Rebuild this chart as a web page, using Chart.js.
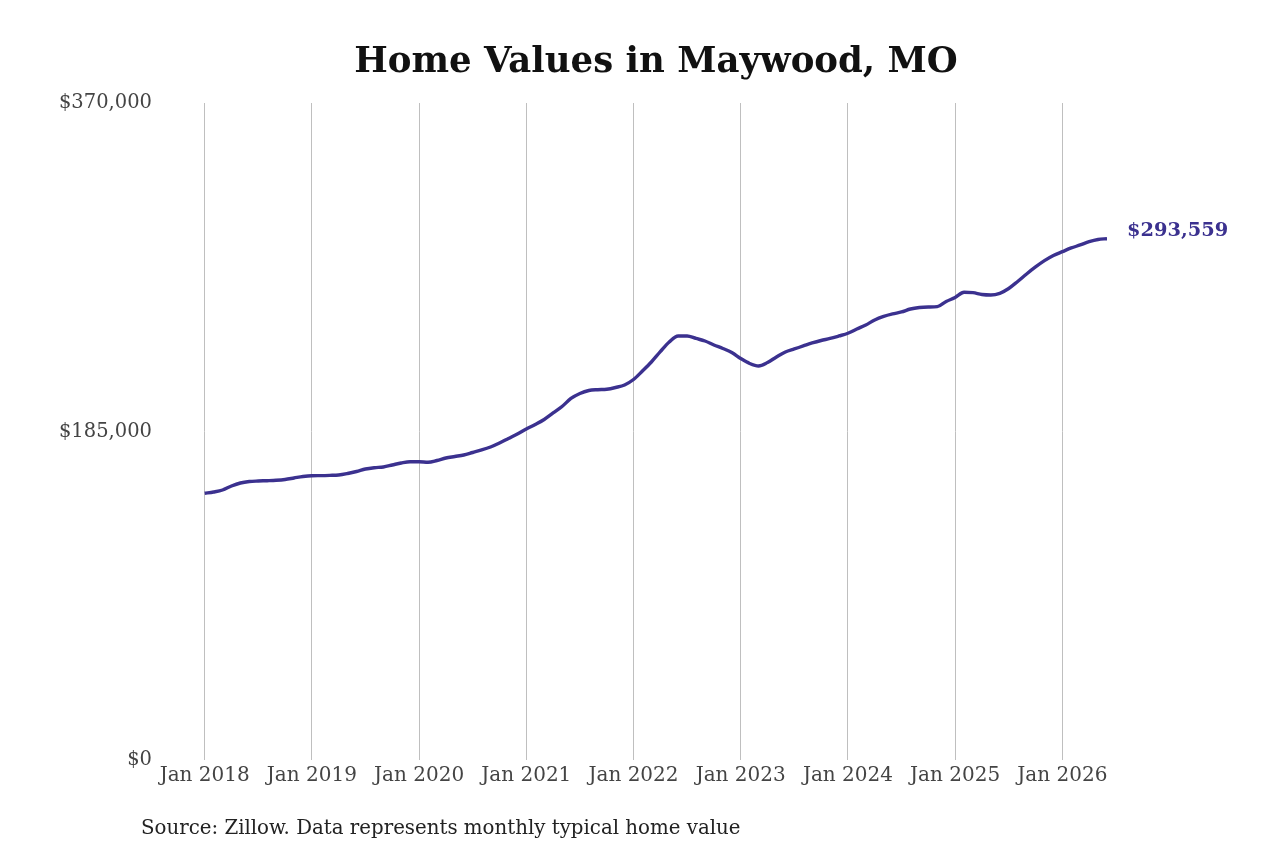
<!DOCTYPE html>
<html>
<head>
<meta charset="utf-8">
<script src="https://cdn.jsdelivr.net/npm/chart.js@4.4.1/dist/chart.umd.min.js"></script>
<style>
  html, body { margin: 0; padding: 0; background: #ffffff; }
  #wrap { position: relative; width: 1280px; height: 853px; overflow: hidden; }
  #title { position: absolute; left: 0; width: 1312px; top: 38px; text-align: center;
           font-family: "DejaVu Serif", serif; font-weight: bold; font-size: 35.5px; line-height: 44px; color: #111; }
  #source { position: absolute; left: 141px; top: 816px; font-family: "DejaVu Serif", serif;
            font-size: 19.8px; line-height: 24px; color: #222; }
  canvas { position: absolute; left: 0; top: 0; }
</style>
</head>
<body>
<div id="wrap">
  <canvas id="c" width="1280" height="853"></canvas>
  <div id="title">Home Values in Maywood, MO</div>
  <div id="source">Source: Zillow. Data represents monthly typical home value</div>
</div>
<script>
// Monthly typical home value, Jan 2018 .. Jun 2026
const startYear = 2018;
const values = [
  150200, 150940, 152060, 154320, 156010, 156850, 157130, 157300, 157530, 157980, 158820, 159670,
  160120, 160170, 160290, 160510, 161360, 162480, 163890, 164620, 165020, 166140, 167270, 168000,
  168000, 167670, 168680, 170090, 170930, 171780, 173180, 174590, 176280, 178530, 181070, 183600,
  186420, 188950, 191770, 195430, 199090, 203600, 206410, 208100, 208550, 208780, 209790, 211200,
  214300, 219080, 224150, 229950, 235420, 238800, 238800, 237390, 235980, 233730, 231760, 229500,
  226120, 223310, 221900, 223870, 226970, 229790, 231480, 233160, 234850, 236260, 237390, 238800,
  240320, 242740, 244990, 247810, 249780, 251190, 252310, 254000, 254850, 255130, 255300, 258230,
  260480, 263410, 263180, 262170, 261890, 262840, 265550, 269490, 273720, 277660, 281210, 284130,
  286270, 288360, 290050, 291910, 293150, 293559
];
const yTicks = [0, 185000, 370000];
const xTickYears = [2018, 2019, 2020, 2021, 2022, 2023, 2024, 2025, 2026];
const endLabel = "$293,559";

const lineColor = "#3b318f";
const points = values.map((v, i) => ({ x: i, y: v }));

const endLabelPlugin = {
  id: "endLabel",
  afterDatasetsDraw(chart) {
    const xs = chart.scales.x, ys = chart.scales.y;
    const last = points[points.length - 1];
    const px = xs.getPixelForValue(last.x), py = ys.getPixelForValue(last.y);
    const ctx = chart.ctx;
    ctx.save();
    ctx.font = "bold 19.4px 'DejaVu Serif', serif";
    ctx.fillStyle = lineColor;
    ctx.textAlign = "left";
    ctx.textBaseline = "middle";
    ctx.fillText(endLabel, px + 20, py - 8);
    ctx.restore();
  }
};

new Chart(document.getElementById("c"), {
  type: "line",
  data: {
    datasets: [{
      data: points,
      borderColor: lineColor,
      borderWidth: 3.4,
      pointRadius: 0,
      tension: 0.4,
      cubicInterpolationMode: "monotone",
      fill: false
    }]
  },
  options: {
    responsive: false,
    animation: false,
    devicePixelRatio: 1,
    layout: { padding: { left: 50, right: 173, top: 103, bottom: 0 } },
    plugins: { legend: { display: false }, tooltip: { enabled: false } },
    scales: {
      x: {
        type: "linear",
        min: -5,
        max: values.length - 1,
        afterBuildTicks(scale) {
          scale.ticks = xTickYears.map(y => ({ value: (y - startYear) * 12 }));
        },
        afterFit(scale) { scale.height = 93; },
        grid: { color: "#bfbfbf", lineWidth: 1, drawTicks: false },
        border: { display: false },
        ticks: {
          padding: 4,
          autoSkip: false,
          maxRotation: 0,
          color: "#444",
          font: { family: "'DejaVu Serif', serif", size: 20 },
          callback(v) { return "Jan " + (startYear + Math.round(v / 12)); }
        }
      },
      y: {
        min: 0,
        max: 370000,
        afterBuildTicks(scale) {
          scale.ticks = yTicks.map(v => ({ value: v }));
        },
        afterFit(scale) { scale.width = 110; },
        grid: { display: false, drawTicks: false },
        border: { display: false },
        ticks: {
          padding: 8,
          color: "#444",
          font: { family: "'DejaVu Serif', serif", size: 19.5 },
          callback(v) { return "$" + v.toLocaleString("en-US"); }
        }
      }
    }
  },
  plugins: [endLabelPlugin]
});
</script>
</body>
</html>
